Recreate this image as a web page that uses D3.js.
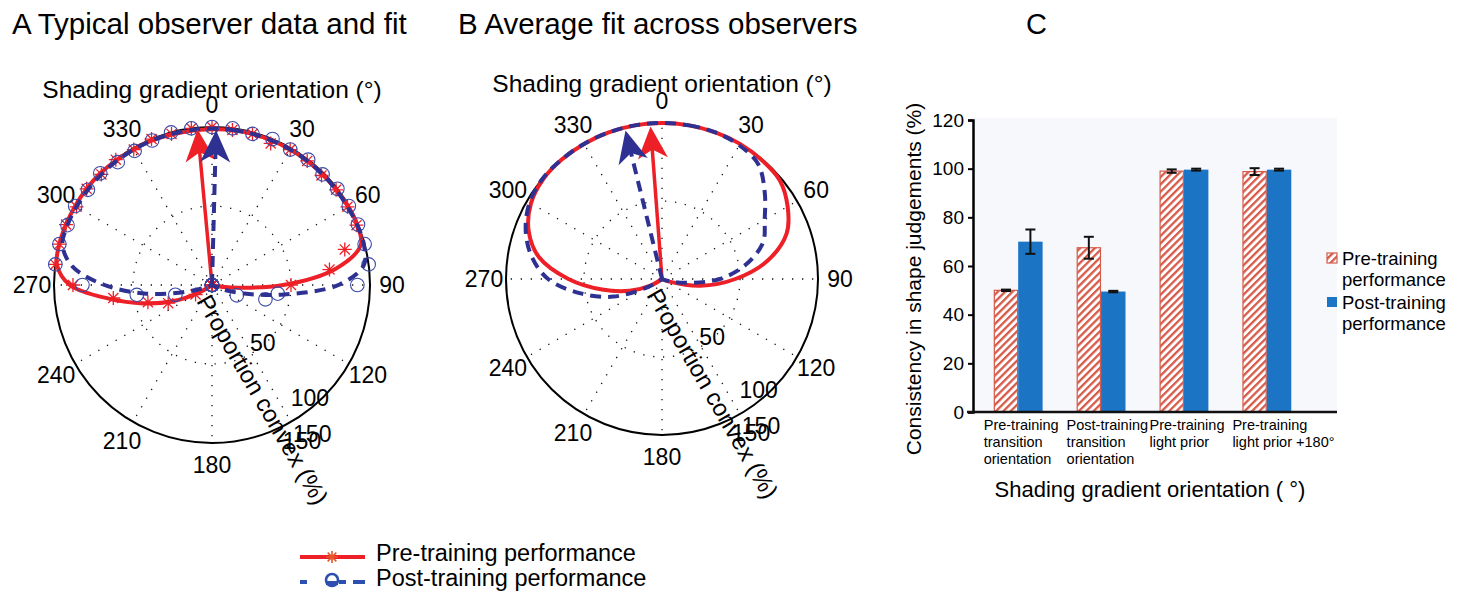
<!DOCTYPE html>
<html>
<head>
<meta charset="utf-8">
<script src="https://d3js.org/d3.v7.min.js"></script>
<style>
  body { margin: 0; background: #fff; }
  text { font-family: "Liberation Sans", Arial, Helvetica, sans-serif; fill: #000; }
</style>
</head>
<body>
<div id="chart"></div>
<script>
  var width = 1462, height = 593;
  var redCol = "#ed2027", blueCol = "#2e3192";
  var hatchCol = "#d65a4a", barBlue = "#1c74c4";

  // ---- data: polar panels (radius = proportion convex, %) ----
  var angleTicks = [0, 30, 60, 90, 120, 150, 180, 210, 240, 270, 300, 330];
  var radialTicks = [50, 100, 150];

  // panel A: observer data every 7.5 deg
  var anglesA = [0, 7.5, 15, 22.5, 30, 37.5, 45, 52.5, 60, 67.5, 75, 82.5, 90, 97.5, 105, 112.5,
                 120, 127.5, 135, 142.5, 150, 157.5, 165, 172.5, 180, 187.5, 195, 202.5, 210, 217.5, 225, 232.5,
                 240, 247.5, 255, 262.5, 270, 277.5, 285, 292.5, 300, 307.5, 315, 322.5, 330, 337.5, 345, 352.5];
  var preDataA = [100, 99, 99, 97, 99, 99, 98, 99, 99, 99, 87, 75, 50, 0, 0, 0,
                  0, 0, 0, 0, 0, 0, 0, 0, 0, 0, 0, 0, 0, 0, 0, 0,
                  12, 30, 42, 63, 88, 100, 100, 100, 99, 100, 99, 100, 99, 100, 99, 100];
  var postDataA = [100, 100, 99, 100, 99, 100, 99, 100, 100, 100, 100, 100, 92, 42, 35, 17,
                   0, 0, 0, 0, 0, 0, 0, 0, 0, 0, 0, 0, 0, 0, 0, 0,
                   0, 0, 24, 48, 82, 100, 100, 99, 100, 99, 100, 98, 98, 99, 100, 100];
  var preFitA = [98.5, 99, 99, 99, 99, 99, 99, 99, 99.5, 99.5, 97.5, 79, 45, 12, 2, 0,
                 0, 0, 0, 0, 0, 0, 0, 0, 0, 0, 0, 0, 0, 0, 0, 0,
                 10, 27, 45, 66, 90, 99, 100, 100, 100, 100, 100, 99.5, 99, 99, 98.5, 98.5];
  var postFitA = [99, 99, 99, 99, 99, 99, 99, 99, 99, 99.5, 99.5, 97, 80, 46, 21, 7,
                  0, 0, 0, 0, 0, 0, 0, 0, 0, 0, 0, 0, 0, 0, 0, 0,
                  0, 3, 16, 42, 68, 89, 98, 99, 99, 99, 99, 99, 99, 99, 99, 99];
  var arrowsA = [{series: "pre", dir: 354.7, len: 99}, {series: "post", dir: 1.5, len: 98}];

  // panel B: average fit every 10 deg
  var anglesB = [0, 10, 20, 30, 40, 50, 60, 70, 80, 90, 100, 110, 120, 130, 140, 150, 160, 170,
                 180, 190, 200, 210, 220, 230, 240, 250, 260, 270, 280, 290, 300, 310, 320, 330, 340, 350];
  var preFitB = [100, 100, 100, 100, 99.5, 98.5, 93, 85, 69, 47, 25, 5, 0, 0, 0, 0, 0, 0,
                 0, 0, 0, 0, 0, 0, 8, 22, 39, 60, 80, 91, 97, 99.5, 100, 100, 100, 100];
  var postFitB = [100, 100, 100, 99, 96, 86, 76, 69, 55, 37, 14, 2, 0, 0, 0, 0, 0, 0,
                  0, 0, 0, 0, 0, 0, 10, 33, 53, 73, 85, 93, 98, 100, 100, 100, 100, 100];
  var arrowsB = [{series: "pre", dir: 355.7, len: 98}, {series: "post", dir: 346.2, len: 98}];

  // ---- data: bar panel C ----
  var categories = [["Pre-training", "transition", "orientation"],
                    ["Post-training", "transition", "orientation"],
                    ["Pre-training", "light prior"],
                    ["Pre-training", "light prior +180\u00B0"]];
  var preValues = [50, 67.5, 99, 98.8];
  var preErrors = [0.3, 4.5, 0.7, 1.4];
  var postValues = [70, 49.5, 99.6, 99.6];
  var postErrors = [5, 0.3, 0.4, 0.4];
  var yTicks = [0, 20, 40, 60, 80, 100, 120];

  var svg = d3.select("#chart").append("svg")
      .attr("width", width).attr("height", height);

  var defs = svg.append("defs");
  var hatch = defs.append("pattern").attr("id", "hatch")
      .attr("patternUnits", "userSpaceOnUse")
      .attr("width", 5.2).attr("height", 5.2)
      .attr("patternTransform", "rotate(45)");
  hatch.append("rect").attr("width", 5.2).attr("height", 5.2).attr("fill", "#fff");
  hatch.append("rect").attr("width", 2.3).attr("height", 5.2).attr("fill", hatchCol);

  //titles
  svg.append("text").attr("x", 12).attr("y", 34).style("font-size", "29.5px")
     .text("A Typical observer data and fit");
  svg.append("text").attr("x", 458).attr("y", 34).style("font-size", "29.5px")
     .text("B Average fit across observers");
  svg.append("text").attr("x", 1026).attr("y", 34).style("font-size", "29px").text("C");

  var rad = Math.PI / 180;
  function px(r, a) { return r * Math.sin(a * rad); }
  function py(r, a) { return -r * Math.cos(a * rad); }

  function asterisk(s) {
    var a = s * 0.72;
    return "M" + (-s) + ",0H" + s + "M0," + (-s) + "V" + s +
           "M" + (-a) + "," + (-a) + "L" + a + "," + a + "M" + (-a) + "," + a + "L" + a + "," + (-a);
  }

  function drawPolar(cx, cy, R, angles, fits, dataSets, arrows) {
    var g = svg.append("g").attr("transform", "translate(" + cx + "," + cy + ")");
    var r = d3.scaleLinear().domain([0, 100]).range([0, R]);

    // dotted spokes and ring
    g.selectAll(".spoke").data(angleTicks).enter().append("line")
      .attr("x1", 0).attr("y1", 0)
      .attr("x2", function(d){ return px(r(100), d); })
      .attr("y2", function(d){ return py(r(100), d); })
      .attr("stroke", "#111").attr("stroke-width", 1.3)
      .attr("stroke-dasharray", "1.3 8.7");
    g.append("circle").attr("r", r(50)).attr("fill", "none")
      .attr("stroke", "#111").attr("stroke-width", 1.3).attr("stroke-dasharray", "1.3 8.7");
    g.append("circle").attr("r", r(100)).attr("fill", "none")
      .attr("stroke", "#000").attr("stroke-width", 2);

    // angle labels
    g.selectAll(".alab").data(angleTicks).enter().append("text")
      .attr("x", function(d){ return px(R + 22, d); })
      .attr("y", function(d){ return py(R + 22, d); })
      .attr("text-anchor", "middle").attr("dominant-baseline", "central")
      .style("font-size", "23px")
      .text(function(d){ return d; });

    // radial tick labels, placed along the radial axis
    var labR = d3.scaleLinear().domain([50, 100, 150]).range([0.49 * R, 0.945 * R, 1.135 * R]);
    var labA = d3.scaleLinear().domain([50, 100, 150]).range([139, 139, 146]);
    g.selectAll(".rlab").data(radialTicks).enter().append("text")
      .attr("x", function(d){ return px(labR(d), labA(d)); })
      .attr("y", function(d){ return py(labR(d), labA(d)); })
      .attr("text-anchor", "middle").attr("dominant-baseline", "central")
      .style("font-size", "23px")
      .text(function(d){ return d; });

    g.append("text")
      .attr("transform", "translate(-16,16) rotate(60)")
      .style("font-size", "24px")
      .text("Proportion convex (%)");

    svg.append("text").attr("x", cx).attr("y", cy - 187)
      .attr("text-anchor", "middle").style("font-size", "24.5px")
      .text("Shading gradient orientation (\u00B0)");

    var line = d3.lineRadial()
      .angle(function(d){ return d[0] * rad; })
      .radius(function(d){ return r(d[1]); })
      .curve(d3.curveCatmullRomClosed.alpha(0.5));

    function pairs(vals) { return vals.map(function(v, i){ return [angles[i], v]; }); }

    // pre (red) first, post (blue) on top
    ["pre", "post"].forEach(function(s) {
      if (dataSets && dataSets[s]) {
        var pts = pairs(dataSets[s]);
        if (s === "pre") {
          g.selectAll(".ast").data(pts).enter().append("path")
            .attr("transform", function(d){ return "translate(" + px(r(d[1]), d[0]) + "," + py(r(d[1]), d[0]) + ")"; })
            .attr("d", asterisk(7))
            .attr("stroke", redCol).attr("stroke-width", 1.3).attr("fill", "none");
        } else {
          g.selectAll(".circ").data(pts).enter().append("circle")
            .attr("cx", function(d){ return px(r(d[1]), d[0]); })
            .attr("cy", function(d){ return py(r(d[1]), d[0]); })
            .attr("r", 6.8)
            .attr("stroke", "#3a4aa8").attr("stroke-width", 1.1).attr("fill", "none");
        }
      }
      g.append("path").datum(pairs(fits[s]))
        .attr("d", line)
        .attr("fill", "none")
        .attr("stroke", s === "pre" ? redCol : blueCol)
        .attr("stroke-width", 4)
        .attr("stroke-dasharray", s === "pre" ? null : "11 7");
    });

    // mean direction arrows
    arrows.forEach(function(a) {
      var col = a.series === "pre" ? redCol : blueCol;
      var L = r(a.len), hl = 32, hw = 15;
      var ag = g.append("g").attr("transform", "rotate(" + a.dir + ")");
      ag.append("line").attr("x1", 0).attr("y1", 0).attr("x2", 0).attr("y2", -(L - hl * 0.7))
        .attr("stroke", col).attr("stroke-width", a.series === "pre" ? 3.5 : 4)
        .attr("stroke-dasharray", a.series === "pre" ? null : "11 7");
      ag.append("path")
        .attr("d", "M0," + (-L) + "L" + (-hw) + "," + (-L + hl) + "L0," + (-L + hl * 0.72) +
                   "L" + hw + "," + (-L + hl) + "Z")
        .attr("fill", col);
    });
  }

  drawPolar(212, 285, 158, anglesA, {pre: preFitA, post: postFitA},
            {pre: preDataA, post: postDataA}, arrowsA);
  drawPolar(662, 279, 156, anglesB, {pre: preFitB, post: postFitB}, null, arrowsB);

  // bottom legend
  var lg = svg.append("g");
  lg.append("line").attr("x1", 300).attr("x2", 365).attr("y1", 557).attr("y2", 557)
    .attr("stroke", redCol).attr("stroke-width", 4);
  lg.append("path").attr("transform", "translate(332,557)").attr("d", asterisk(6))
    .attr("stroke", "#e8552a").attr("stroke-width", 1.6).attr("fill", "none");
  lg.append("line").attr("x1", 300).attr("x2", 365).attr("y1", 582).attr("y2", 582)
    .attr("stroke", "#2d4fb0").attr("stroke-width", 4).attr("stroke-dasharray", "7 16 0 16 7");
  lg.append("circle").attr("cx", 332).attr("cy", 580).attr("r", 6)
    .attr("stroke", "#2d4fb0").attr("stroke-width", 2.6).attr("fill", "none");
  lg.append("rect").attr("x", 326).attr("y", 581).attr("width", 12).attr("height", 4).attr("fill", "#2d4fb0");
  lg.append("text").attr("x", 376).attr("y", 561).style("font-size", "23.5px").text("Pre-training performance");
  lg.append("text").attr("x", 376).attr("y", 586).style("font-size", "23.5px").text("Post-training performance");

  // ---- panel C bar chart ----
  var plotL = 973, plotR = 1337, plotT = 118, plotB = 412;
  var y = d3.scaleLinear().domain([0, 120]).range([plotB, 120]);
  var x0 = d3.scaleBand().domain(d3.range(categories.length))
      .range([plotL, 1312]).paddingInner(0.41).paddingOuter(0.25);
  var x1 = d3.scaleBand().domain(["pre", "post"]).range([0, x0.bandwidth()]);

  svg.append("rect").attr("x", plotL).attr("y", plotT)
     .attr("width", plotR - plotL).attr("height", plotB - plotT).attr("fill", "#f6f8fc");

  var groups = svg.selectAll(".grp").data(categories).enter().append("g")
      .attr("transform", function(d, i){ return "translate(" + x0(i) + ",0)"; });

  groups.append("rect")
    .attr("x", x1("pre") + 0.6).attr("width", x1.bandwidth() - 1.2)
    .attr("y", function(d, i){ return y(preValues[i]); })
    .attr("height", function(d, i){ return plotB - y(preValues[i]); })
    .attr("fill", "url(#hatch)").attr("stroke", hatchCol).attr("stroke-width", 1.2);
  groups.append("rect")
    .attr("x", x1("post")).attr("width", x1.bandwidth())
    .attr("y", function(d, i){ return y(postValues[i]); })
    .attr("height", function(d, i){ return plotB - y(postValues[i]); })
    .attr("fill", barBlue);

  function errBar(sel, key, vals, errs) {
    var cxb = x1(key) + x1.bandwidth() / 2, cw = 5;
    var eg = sel.append("g").attr("stroke", "#111").attr("stroke-width", 2).attr("fill", "none");
    eg.append("line").attr("x1", cxb).attr("x2", cxb)
      .attr("y1", function(d, i){ return y(vals[i] + errs[i]); })
      .attr("y2", function(d, i){ return y(vals[i] - errs[i]); });
    eg.append("line").attr("x1", cxb - cw).attr("x2", cxb + cw)
      .attr("y1", function(d, i){ return y(vals[i] + errs[i]); })
      .attr("y2", function(d, i){ return y(vals[i] + errs[i]); });
    eg.append("line").attr("x1", cxb - cw).attr("x2", cxb + cw)
      .attr("y1", function(d, i){ return y(vals[i] - errs[i]); })
      .attr("y2", function(d, i){ return y(vals[i] - errs[i]); });
  }
  errBar(groups, "pre", preValues, preErrors);
  errBar(groups, "post", postValues, postErrors);

  // category labels
  groups.append("text")
    .attr("transform", "translate(-10,0)")
    .style("font-size", "14.5px")
    .selectAll("tspan").data(function(d){ return d; }).enter().append("tspan")
    .attr("x", 0).attr("y", function(d, j){ return 430 + j * 17; })
    .text(function(d){ return d; });

  // axes
  var yAxis = svg.append("g").attr("transform", "translate(" + plotL + ",0)")
      .call(d3.axisLeft(y).tickValues(yTicks).tickSize(5).tickPadding(4));
  yAxis.select(".domain").attr("stroke-width", 2.5);
  yAxis.selectAll(".tick line").attr("stroke-width", 2);
  yAxis.selectAll(".tick text").style("font-size", "19px")
      .style("font-family", "Liberation Sans, Arial, sans-serif");
  svg.append("line").attr("x1", plotL - 6).attr("x2", plotR).attr("y1", plotB).attr("y2", plotB)
     .attr("stroke", "#111").attr("stroke-width", 2.5);

  svg.append("text")
     .attr("transform", "translate(921," + 279 + ") rotate(-90)")
     .attr("text-anchor", "middle").style("font-size", "21px")
     .text("Consistency in shape judgements (%)");
  svg.append("text").attr("x", 1150).attr("y", 497)
     .attr("text-anchor", "middle").style("font-size", "22px")
     .text("Shading gradient orientation ( \u00B0)");

  // right legend
  var leg = svg.append("g").attr("transform", "translate(1327,0)");
  leg.append("rect").attr("x", 0).attr("y", 253).attr("width", 10).attr("height", 10)
     .attr("fill", "url(#hatch)").attr("stroke", hatchCol).attr("stroke-width", 1.2);
  leg.append("rect").attr("x", 0).attr("y", 297).attr("width", 10).attr("height", 10).attr("fill", barBlue);
  var legTxt = [["Pre-training", "performance"], ["Post-training", "performance"]];
  leg.selectAll(".lt").data(legTxt).enter().append("text")
     .style("font-size", "18.5px")
     .selectAll("tspan").data(function(d, i){ return d.map(function(t){ return {t: t, i: i}; }); })
     .enter().append("tspan")
     .attr("x", 15).attr("y", function(d, j){ return 265 + d.i * 44 + j * 21; })
     .text(function(d){ return d.t; });
</script>
</body>
</html>
